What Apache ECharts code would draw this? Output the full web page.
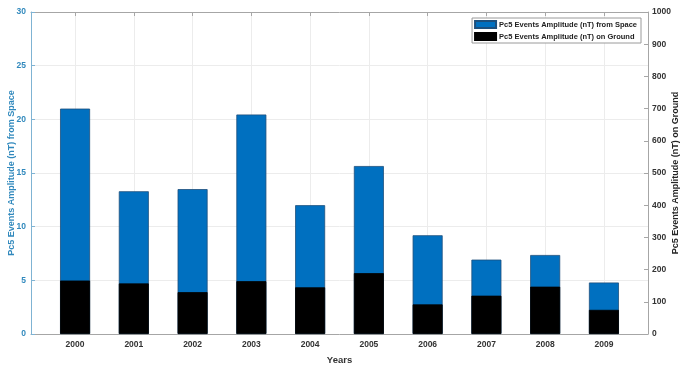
<!DOCTYPE html>
<html>
<head>
<meta charset="utf-8">
<script src="https://cdn.jsdelivr.net/npm/echarts@6/dist/echarts.min.js"></script>
<style>
  html, body { margin: 0; padding: 0; background: #fff; }
  #chart { width: 685px; height: 365px; }
</style>
</head>
<body>
<div id="chart"></div>
<script>
var years = [2000, 2001, 2002, 2003, 2004, 2005, 2006, 2007, 2008, 2009]
var spaceAmp = [21.0, 13.3, 13.5, 20.45, 12.0, 15.65, 9.2, 6.93, 7.36, 4.8]
var groundAmp = [166, 157, 130, 164, 145, 189, 92, 119, 147, 75]
var spaceName = 'Pc5 Events Amplitude (nT) from Space'
var groundName = 'Pc5 Events Amplitude (nT) on Ground'

var chart = echarts.init(document.getElementById('chart'))
var font = 'Liberation Sans, Arial, sans-serif'
var frame = '#a6a6a6'
var leftBlue = '#3189bd'

function pairs(vals) {
  return years.map(function (y, i) { return [y, vals[i]] })
}

chart.setOption({
  animation: false,
  backgroundColor: '#fff',
  textStyle: { fontFamily: font },
  grid: { left: 31, right: 37, top: 12, bottom: 31, containLabel: false, outerBoundsMode: 'none' },
  legend: {
    orient: 'vertical',
    right: 44,
    top: 18,
    itemWidth: 21,
    itemHeight: 7,
    itemGap: 3,
    padding: [2, 4, 2, 2],
    borderColor: '#9a9a9a',
    borderWidth: 1,
    backgroundColor: '#fff',
    borderRadius: 0,
    icon: 'rect',
    textStyle: { fontSize: 7.5, fontWeight: 'bold', color: '#222', padding: [0, 0, 0, -2] },
    data: [spaceName, groundName]
  },
  xAxis: [{
    type: 'value',
    min: 1999.25,
    max: 2009.75,
    name: 'Years',
    nameLocation: 'middle',
    nameGap: 21,
    nameMoveOverlap: false,
    nameTextStyle: { fontSize: 9.5, fontWeight: 'bold', color: '#333' },
    axisLine: { show: true, lineStyle: { color: frame } },
    axisTick: { show: true, inside: true, length: 4, customValues: years, lineStyle: { color: frame } },
    axisLabel: { customValues: years, fontSize: 8.5, fontWeight: 'bold', color: '#333', margin: 6,
      formatter: function (v) { return String(v) } },
    splitLine: { show: true, lineStyle: { color: '#ececec' } }
  }, {
    type: 'value',
    position: 'top',
    min: 1999.25,
    max: 2009.75,
    axisLine: { show: true, onZero: false, lineStyle: { color: frame } },
    axisTick: { show: true, inside: true, length: 4, customValues: years, lineStyle: { color: frame } },
    axisLabel: { show: false },
    splitLine: { show: false }
  }],
  yAxis: [{
    type: 'value',
    min: 0,
    max: 30,
    interval: 5,
    name: spaceName,
    nameLocation: 'middle',
    nameGap: 15,
    nameMoveOverlap: false,
    nameTextStyle: { fontSize: 9, fontWeight: 'bold', color: leftBlue },
    axisLine: { show: true, lineStyle: { color: '#7fb3d3' } },
    axisTick: { show: true, inside: true, length: 4, lineStyle: { color: '#7fb3d3' } },
    axisLabel: { fontSize: 8.5, fontWeight: 'bold', color: leftBlue, margin: 5 },
    splitLine: { show: true, lineStyle: { color: '#ececec' } }
  }, {
    type: 'value',
    min: 0,
    max: 1000,
    interval: 100,
    name: groundName,
    nameLocation: 'middle',
    nameGap: 23,
    nameMoveOverlap: false,
    nameTextStyle: { fontSize: 9, fontWeight: 'bold', color: '#262626' },
    axisLine: { show: true, lineStyle: { color: frame } },
    axisTick: { show: true, inside: true, length: 4, lineStyle: { color: frame } },
    axisLabel: { fontSize: 8.5, fontWeight: 'bold', color: '#333', margin: 4,
      formatter: function (v) { return String(v) } },
    splitLine: { show: false }
  }],
  series: [{
    name: spaceName,
    type: 'bar',
    xAxisIndex: 0,
    yAxisIndex: 0,
    barWidth: 30,
    barGap: '-100%',
    itemStyle: { color: '#0070c0', borderColor: '#1d4f7c', borderWidth: 0.8 },
    data: pairs(spaceAmp)
  }, {
    name: groundName,
    type: 'bar',
    xAxisIndex: 0,
    yAxisIndex: 1,
    barWidth: 30,
    barGap: '-100%',
    itemStyle: { color: '#000', borderColor: '#000', borderWidth: 0.8 },
    data: pairs(groundAmp)
  }]
})
</script>
</body>
</html>
